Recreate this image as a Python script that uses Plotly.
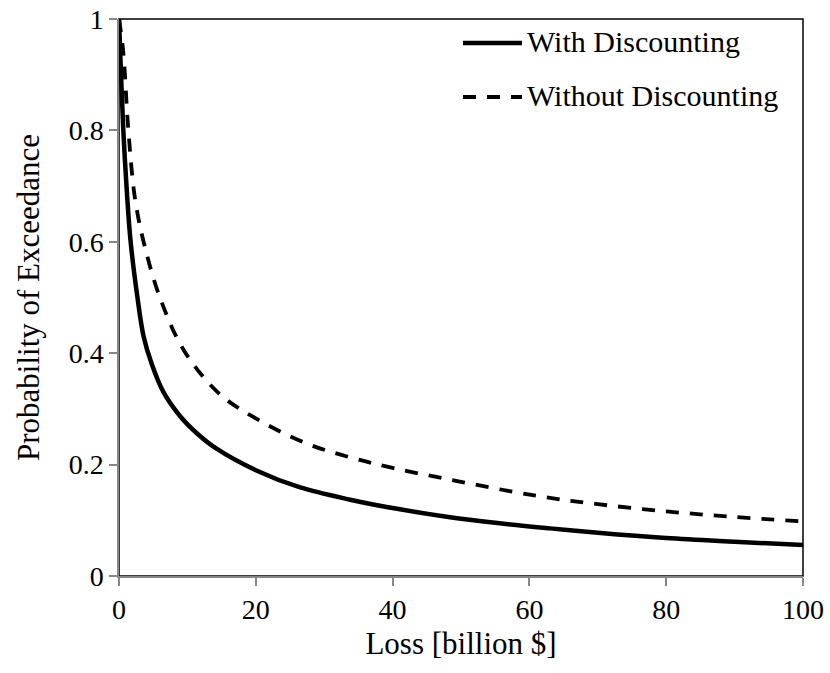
import plotly.graph_objects as go

# Exceedance curves: loss in billion $ vs probability of exceedance
loss_with = [0, 0.3, 0.63, 1.2, 1.7, 2.7, 3.6, 4.8, 6.5, 9.0, 11.5, 14.2, 20,
             26.5, 33.8, 40, 48.4, 55, 63, 70, 80, 90, 100]
prob_with = [1.0, 0.9, 0.8, 0.68, 0.6, 0.5, 0.43, 0.38, 0.33, 0.286, 0.255,
             0.229, 0.19, 0.159, 0.137, 0.122, 0.1055, 0.0955, 0.0855, 0.0775,
             0.068, 0.0615, 0.0557]

loss_without = [0, 0.6, 1.37, 2.35, 3.8, 6.1, 9.5, 14.6, 20, 27.4, 33.8, 40,
                48.4, 61, 70, 80, 90, 100]
prob_without = [1.0, 0.944, 0.8, 0.677, 0.59, 0.496, 0.405, 0.328, 0.283,
                0.238, 0.213, 0.194, 0.173, 0.144, 0.129, 0.116, 0.106, 0.098]

series_names = ["With Discounting", "Without Discounting"]
x_ticks = [0, 20, 40, 60, 80, 100]
y_ticks = [0, 0.2, 0.4, 0.6, 0.8, 1]

FONT = "'Liberation Serif', 'Times New Roman', Tinos, 'DejaVu Serif', serif"
AXIS_GRAY = "#868686"
DASH = "13px,11px"

fig = go.Figure()
fig.add_trace(go.Scatter(
    x=loss_with, y=prob_with, mode="lines", name=series_names[0],
    line=dict(color="black", width=4.5, shape="spline", smoothing=1.0),
    showlegend=False))
fig.add_trace(go.Scatter(
    x=loss_without, y=prob_without, mode="lines", name=series_names[1],
    line=dict(color="black", width=3.8, dash=DASH, shape="spline", smoothing=1.0),
    showlegend=False))

# Plot-area frame (black), axis lines drawn over it in gray
shapes = [dict(type="rect", xref="paper", yref="paper", x0=0, y0=0, x1=1, y1=1,
               line=dict(color="black", width=1.5), layer="below")]

# Legend keys drawn in paper coordinates
W, H = 830, 673
L, R, T, B = 119, 27, 19, 97
pw, ph = W - L - R, H - T - B

def px_x(px):
    return (px - L) / pw

def px_y(py):
    return (H - B - py) / ph

legend_rows = [(41, "solid", 4.5), (95, DASH, 3.8)]
annotations = []
for (yc, dash, lw), name in zip(legend_rows, series_names):
    shapes.append(dict(type="line", xref="paper", yref="paper",
                       x0=px_x(463), x1=px_x(522), y0=px_y(yc + 2), y1=px_y(yc + 2),
                       line=dict(color="black", width=lw, dash=dash)))
    annotations.append(dict(xref="paper", yref="paper", x=px_x(525), y=px_y(yc),
                            xanchor="left", yanchor="middle", showarrow=False,
                            text=name, font=dict(family=FONT, size=30, color="black")))

fig.update_layout(
    width=W, height=H, autosize=False,
    margin=dict(l=L, r=R, t=T, b=B, pad=0, autoexpand=False),
    paper_bgcolor="white", plot_bgcolor="white",
    font=dict(family=FONT, color="black", size=28),
    shapes=shapes, annotations=annotations,
    xaxis=dict(range=[0, 100], tickvals=x_ticks, ticks="outside", ticklen=8,
               tickwidth=1.5, tickcolor=AXIS_GRAY, showline=True, linecolor=AXIS_GRAY,
               linewidth=1.5, showgrid=False, zeroline=False, automargin=False,
               tickfont=dict(family=FONT, size=28, color="black"),
               title=dict(text="Loss [billion $]", standoff=8,
                          font=dict(family=FONT, size=31, color="black"))),
    yaxis=dict(range=[0, 1], tickvals=y_ticks, ticks="outside", ticklen=8,
               tickwidth=1.5, tickcolor=AXIS_GRAY, showline=True, linecolor=AXIS_GRAY,
               linewidth=1.5, showgrid=False, zeroline=False, automargin=False,
               tickfont=dict(family=FONT, size=28, color="black"),
               title=dict(text="Probability of Exceedance", standoff=20,
                          font=dict(family=FONT, size=31, color="black"))),
)

fig.write_html("out.html")
